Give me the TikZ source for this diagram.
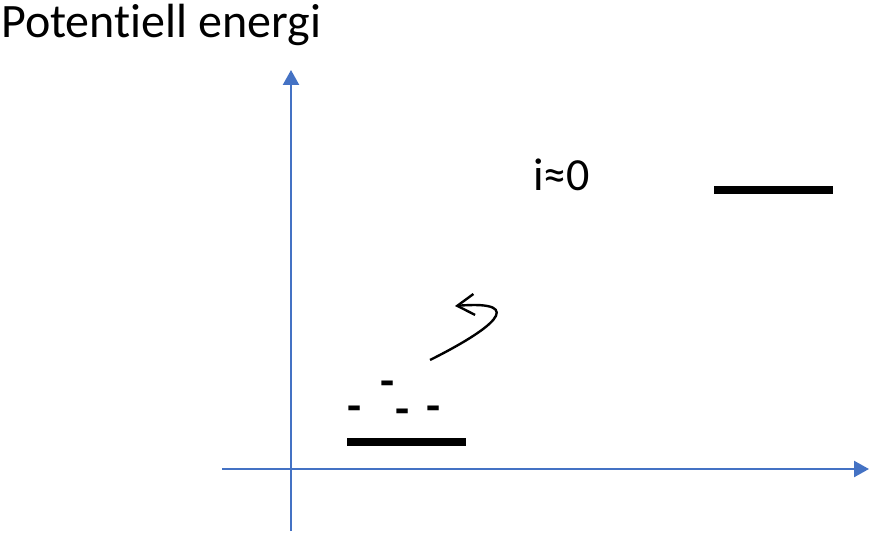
\documentclass[tikz,border=0pt]{standalone}
\usepackage{fontspec}
\setmainfont{Carlito}[Ligatures=NoCommon]
\usetikzlibrary{arrows.meta}
\definecolor{axisblue}{RGB}{68,114,196}

\begin{document}
\begin{tikzpicture}[x=1pt,y=-1pt,font=\fontsize{46}{50}\selectfont,
  axis/.style={draw=axisblue,line width=2.4pt,-{Triangle[length=15pt,width=16pt]}},
  level/.style={line width=7.5pt},
  charge/.style={anchor=base,inner sep=0pt,font=\fontsize{46}{50}\selectfont\bfseries}]
\useasboundingbox (0,0) rectangle (874,534);
% axes
\coordinate (ybot) at (291,531);\coordinate (ytop) at (291,70);
\coordinate (xleft) at (222,469);\coordinate (xright) at (869,469);
\draw[axis] (ybot) -- (ytop);
\draw[axis] (xleft) -- (xright);
\node[anchor=base west,inner sep=0pt,font=\fontsize{48}{52}\selectfont] (title) at (1,38) {Potentiell energi};
% energy levels
\coordinate (lowL) at (347,442);\coordinate (lowR) at (466,442);
\coordinate (highL) at (714,190);\coordinate (highR) at (833,190);
\draw[level] (lowL) -- (lowR);
\draw[level] (highL) -- (highR);
\node[anchor=base west,inner sep=0pt] (ilabel) at (533,191) {i≈0};
% charges
\node[charge] (q1) at (388,396) {-};
\node[charge] (q2) at (355,421) {-};
\node[charge] (q3) at (403,424) {-};
\node[charge] (q4) at (434,421) {-};
% jump
\coordinate (jfrom) at (430,360);\coordinate (jto) at (455,306);
\draw[line width=2.4pt,-{Straight Barb[length=17pt,width=21pt]}] (jfrom) .. controls (490,330) and (530,300) .. (jto);
\end{tikzpicture}
\end{document}
